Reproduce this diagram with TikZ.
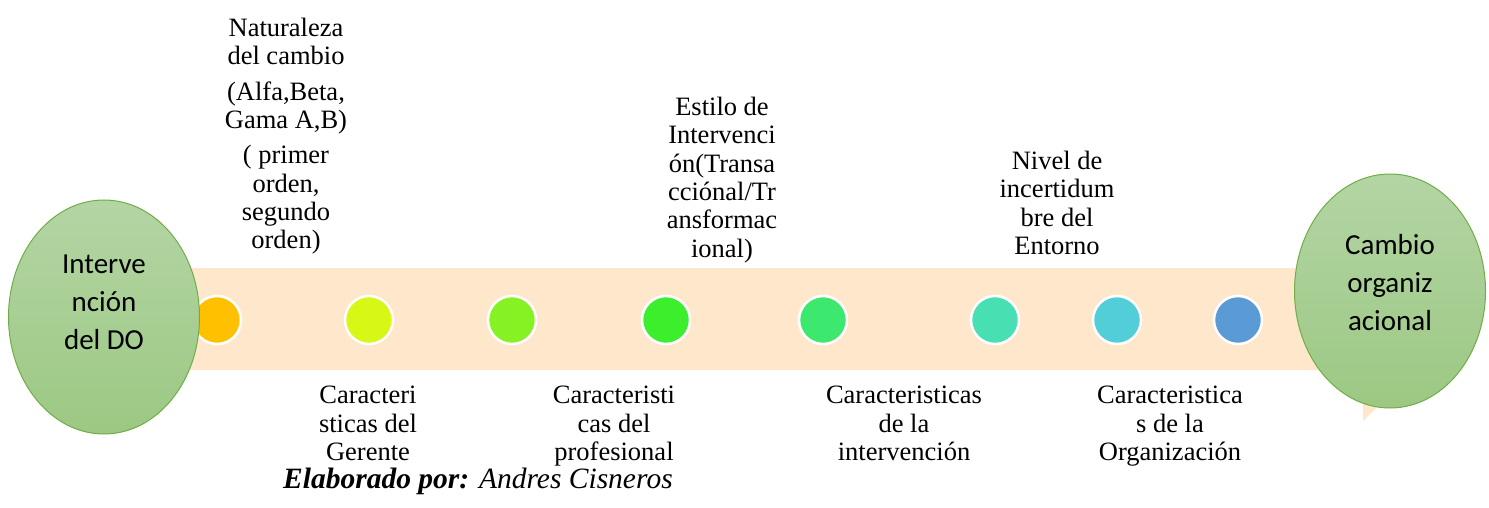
\documentclass[tikz,border=0pt]{standalone}
\usepackage{fontspec}
\setmainfont{Liberation Serif}
\newfontfamily\calibri{Carlito}
\usetikzlibrary{shapes.geometric}
\definecolor{bandc}{HTML}{FFE7CC}
\definecolor{elborder}{HTML}{70AD47}
\definecolor{eltop}{HTML}{B3D5A4}
\definecolor{elbot}{HTML}{9CC883}
\definecolor{d1}{HTML}{FFC000}
\definecolor{d2}{HTML}{D7F716}
\definecolor{d3}{HTML}{86F223}
\definecolor{d4}{HTML}{3CEE2C}
\definecolor{d5}{HTML}{3CE86E}
\definecolor{d6}{HTML}{48E0B3}
\definecolor{d7}{HTML}{52CED9}
\definecolor{d8}{HTML}{5B9BD5}
\begin{document}
\begin{tikzpicture}[x=1pt,y=-1pt,
  stage/.style={ellipse, draw=elborder, line width=1pt, top color=eltop, bottom color=elbot, minimum width=191pt, minimum height=234pt, inner sep=0pt},
  dotnode/.style={circle, draw=white, line width=2.5pt, minimum size=48pt, inner sep=0pt},
  lbl/.style={font=\fontsize{26.5}{28.3}\selectfont, align=center, anchor=north, inner sep=0pt},
  etxt/.style={font=\calibri\fontsize{29}{38}\selectfont, align=center, anchor=north, inner sep=0pt}]
\useasboundingbox (0,0) rectangle (1489,508);
% band arrow
\fill[bandc] (150,268) -- (1363,268) -- (1363,216) -- (1465,319) -- (1363,421) -- (1363,370) -- (150,370) -- cycle;
% dots
\node[dotnode, fill=d1] (p1) at (217,320) {};
\node[dotnode, fill=d2] (p2) at (369,320) {};
\node[dotnode, fill=d3] (p3) at (512,320) {};
\node[dotnode, fill=d4] (p4) at (666,320) {};
\node[dotnode, fill=d5] (p5) at (823,320) {};
\node[dotnode, fill=d6] (p6) at (995,320) {};
\node[dotnode, fill=d7] (p7) at (1117,320) {};
\node[dotnode, fill=d8] (p8) at (1238,320) {};
% ellipses
\node[stage] (start) at (104,317) {};
\node[stage] (finish) at (1390,291) {};
\node[etxt] (starttxt) at (104,255) {Interve\\nción\\del DO};
\node[etxt] (finishtxt) at (1390,234.5) {Cambio\\organiz\\acional};
% top labels
\node[lbl] (t1) at (286,18) {Naturaleza\\del cambio\\[7pt](Alfa,Beta,\\Gama A,B)\\[7pt]( primer\\orden,\\segundo\\orden)};
\node[lbl] (t2) at (722,97) {Estilo de\\Intervenci\\ón(Transa\\cciónal/Tr\\ansformac\\ional)};
\node[lbl] (t3) at (1057,151) {Nivel de\\incertidum\\bre del\\Entorno};
% bottom labels
\node[lbl] (b1) at (368,386) {Caracteri\\sticas del\\Gerente};
\node[lbl] (b2) at (614,386) {Caracteristi\\cas del\\profesional};
\node[lbl] (b3) at (904,386) {Caracteristicas\\de la\\intervención};
\node[lbl] (b4) at (1170,386) {Caracteristica\\s de la\\Organización};
% credit
\node[font=\fontsize{29.5}{32}\selectfont\itshape, anchor=base west, inner sep=0pt] (credit) at (283,488) {\textbf{Elaborado por:} Andres Cisneros};
\end{tikzpicture}
\end{document}
